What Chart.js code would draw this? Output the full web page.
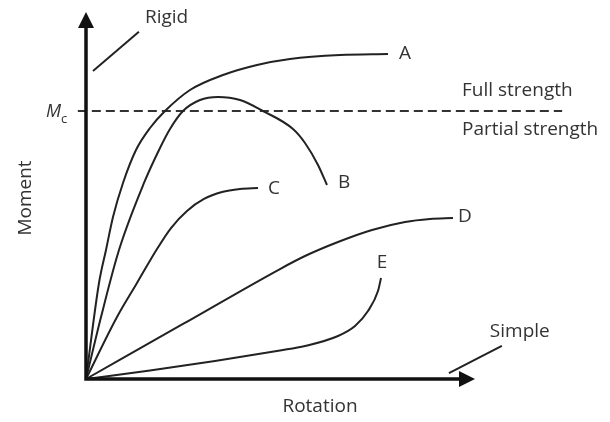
<!DOCTYPE html>
<html>
<head>
<meta charset="utf-8">
<script src="https://cdn.jsdelivr.net/npm/chart.js@4"></script>
<style>
html,body{margin:0;padding:0;background:#fff;}
#wrap{width:610px;height:422px;position:relative;}
</style>
</head>
<body>
<div id="wrap"><canvas id="c" width="610" height="422"></canvas></div>
<script>
// ---- data (rotation, moment in arbitrary normalised units 0-100) ----
const curveNames = ['A', 'B', 'C', 'D', 'E'];
const rotA = [0, 3.34, 5.14, 6.94, 9.51, 12.85, 16.45, 20.31, 26.74, 35.22, 43.96, 52.44, 65.30, 77.63];
const momA = [0, 26.16, 35.15, 44.14, 53.41, 62.40, 68.39, 73.02, 78.75, 82.83, 85.56, 87.19, 88.28, 88.56];
const rotB = [0, 3.86, 8.48, 14.91, 18.77, 21.59, 24.94, 29.31, 33.93, 39.59, 45.50, 53.21, 56.30, 59.64, 61.95];
const momB = [0, 16.89, 35.15, 53.41, 62.40, 68.12, 73.02, 76.02, 76.84, 76.02, 73.02, 68.12, 64.31, 58.31, 52.86];
const rotC = [0, 7.97, 13.11, 18.25, 21.85, 25.96, 30.33, 34.96, 39.59, 44.22];
const momC = [0, 16.89, 26.16, 35.42, 41.14, 45.78, 49.05, 50.95, 51.77, 52.04];
const rotD = [0, 24.94, 49.87, 56.30, 64.78, 73.52, 82.01, 88.43, 94.34];
const momD = [0, 14.99, 29.97, 33.51, 37.33, 40.60, 42.78, 43.60, 43.87];
const rotE = [0, 16.45, 33.16, 49.87, 56.30, 64.78, 69.15, 72.49, 75.06, 75.84];
const momE = [0, 2.32, 4.90, 7.77, 8.99, 11.72, 14.44, 18.53, 23.98, 27.52];
const momentMc = 73.0;
const mcLineRot = [-2.1, 122.4];
const rigidRot = [1.8, 13.6];
const rigidMom = [83.9, 94.6];
const simpleRot = [93.3, 106.9];
const simpleMom = [1.6, 9.0];
const axisMax = 100;

const rots = [rotA, rotB, rotC, rotD, rotE];
const moms = [momA, momB, momC, momD, momE];
const pts = (xs, ys) => xs.map((x, i) => ({x: x, y: ys[i]}));

const INK = '#222';
const TEXT = '#333';
const FONT = '"Open Sans", "Noto Sans", sans-serif';

const datasets = curveNames.map((n, i) => ({
  label: n,
  data: pts(rots[i], moms[i]),
  borderColor: INK,
  borderWidth: 2,
  pointRadius: 0,
  cubicInterpolationMode: 'monotone',
  clip: false
}));
datasets.push({
  label: 'Mc',
  data: pts(mcLineRot, [momentMc, momentMc]),
  borderColor: '#333',
  borderWidth: 2,
  borderDash: [9, 5],
  pointRadius: 0,
  clip: false
});
datasets.push({
  label: 'Rigid',
  data: pts(rigidRot, rigidMom),
  borderColor: INK, borderWidth: 2, pointRadius: 0, clip: false
});
datasets.push({
  label: 'Simple',
  data: pts(simpleRot, simpleMom),
  borderColor: INK, borderWidth: 2, pointRadius: 0, clip: false
});

const decor = {
  id: 'decor',
  afterDatasetsDraw(chart) {
    const ctx = chart.ctx;
    const xs = chart.scales.x, ys = chart.scales.y;
    const X = v => xs.getPixelForValue(v), Y = v => ys.getPixelForValue(v);
    const ox = X(0), oy = Y(0), tx = X(axisMax), ty = Y(axisMax);
    ctx.save();
    // axes
    ctx.strokeStyle = '#111';
    ctx.fillStyle = '#111';
    ctx.lineWidth = 3.5;
    ctx.lineCap = 'butt';
    ctx.beginPath();
    ctx.moveTo(ox, ty + 12);
    ctx.lineTo(ox, oy);
    ctx.lineTo(tx - 12, oy);
    ctx.stroke();
    // arrow heads
    ctx.beginPath();
    ctx.moveTo(ox, ty);
    ctx.lineTo(ox - 8, ty + 16);
    ctx.lineTo(ox + 8, ty + 16);
    ctx.closePath();
    ctx.fill();
    ctx.beginPath();
    ctx.moveTo(tx, oy);
    ctx.lineTo(tx - 16, oy - 8);
    ctx.lineTo(tx - 16, oy + 8);
    ctx.closePath();
    ctx.fill();

    // texts
    ctx.fillStyle = TEXT;
    ctx.font = '19px ' + FONT;
    ctx.textBaseline = 'middle';
    ctx.textAlign = 'left';
    // curve labels
    const off = {A: [11, 0], B: [11, -2], C: [10, 1], D: [5, -1]};
    curveNames.forEach((n, i) => {
      const r = rots[i], m = moms[i];
      const px = X(r[r.length - 1]), py = Y(m[m.length - 1]);
      if (n === 'E') {
        ctx.textAlign = 'center';
        ctx.fillText(n, px + 1, py - 15);
        ctx.textAlign = 'left';
      } else {
        ctx.fillText(n, px + off[n][0], py + off[n][1]);
      }
    });
    const mcY = Y(momentMc);
    ctx.fillText('Full strength', 462, mcY - 20);
    ctx.fillText('Partial strength', 462, mcY + 19);
    // Rigid / Simple
    ctx.fillText('Rigid', X(rigidRot[1]) + 6, Y(rigidMom[1]) - 14);
    ctx.fillText('Simple', X(simpleRot[1]) - 12, Y(simpleMom[1]) - 14);
    // Mc
    ctx.textBaseline = 'alphabetic';
    ctx.textAlign = 'right';
    ctx.font = 'italic 18px ' + FONT;
    ctx.fillText('M', 61, mcY + 6);
    ctx.textAlign = 'left';
    ctx.font = '13px ' + FONT;
    ctx.fillText('c', 61, mcY + 12);
    // axis titles
    ctx.font = '19px ' + FONT;
    ctx.textAlign = 'center';
    ctx.textBaseline = 'middle';
    ctx.fillText('Rotation', 320, oy + 28);
    ctx.save();
    ctx.translate(26, 198);
    ctx.rotate(-Math.PI / 2);
    ctx.fillText('Moment', 0, 0);
    ctx.restore();
    ctx.restore();
  }
};

new Chart(document.getElementById('c'), {
  type: 'line',
  data: {datasets: datasets},
  options: {
    responsive: false,
    animation: false,
    events: [],
    layout: {padding: {left: 86, right: 135, top: 12, bottom: 43}},
    scales: {
      x: {type: 'linear', min: 0, max: axisMax, display: false},
      y: {type: 'linear', min: 0, max: axisMax, display: false}
    },
    plugins: {legend: {display: false}, tooltip: {enabled: false}, title: {display: false}}
  },
  plugins: [decor]
});
</script>
</body>
</html>
